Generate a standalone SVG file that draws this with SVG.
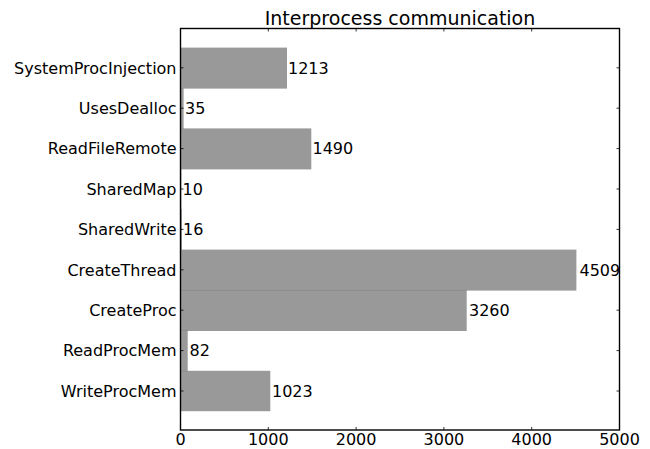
<svg xmlns="http://www.w3.org/2000/svg" width="650" height="449" viewBox="0 0 650 449">
<style>
text{font-family:"DejaVu Sans","Liberation Sans",sans-serif;font-size:16px;fill:#000}
.bar{fill:#808080;fill-opacity:0.8}
.ylab{text-anchor:end}
.xlab{text-anchor:middle}
.tick{stroke:#000;stroke-width:0.8;fill:none}
.spine{stroke:#000;stroke-width:1.4;fill:none}
</style>
<rect x="0" y="0" width="650" height="449" fill="#fff"/>
<text x="400" y="25" class="xlab" style="font-size:19px">Interprocess communication</text>
<g id="bars">
<g id="SystemProcInjection"><rect class="bar" x="180.5" y="47.6" width="106.5" height="41"/><text class="ylab" x="176.5" y="73.6">SystemProcInjection</text><text x="288" y="73.6">1213</text></g>
<g id="UsesDealloc"><rect class="bar" x="180.5" y="88" width="3.1" height="41"/><text class="ylab" x="176.5" y="114">UsesDealloc</text><text x="185" y="114">35</text></g>
<g id="ReadFileRemote"><rect class="bar" x="180.5" y="128.4" width="130.8" height="41"/><text class="ylab" x="176.5" y="154.4">ReadFileRemote</text><text x="312.5" y="154.4">1490</text></g>
<g id="SharedMap"><rect class="bar" x="180.5" y="168.8" width="0.9" height="41"/><text class="ylab" x="176.5" y="194.8">SharedMap</text><text x="182.5" y="194.8">10</text></g>
<g id="SharedWrite"><rect class="bar" x="180.5" y="209.2" width="1.4" height="41"/><text class="ylab" x="176.5" y="235.2">SharedWrite</text><text x="183" y="235.2">16</text></g>
<g id="CreateThread"><rect class="bar" x="180.5" y="249.6" width="395.9" height="41"/><text class="ylab" x="176.5" y="275.6">CreateThread</text><text x="579.5" y="275.6">4509</text></g>
<g id="CreateProc"><rect class="bar" x="180.5" y="290" width="286.2" height="41"/><text class="ylab" x="176.5" y="316">CreateProc</text><text x="469" y="316">3260</text></g>
<g id="ReadProcMem"><rect class="bar" x="180.5" y="330.4" width="7.2" height="41"/><text class="ylab" x="176.5" y="356.4">ReadProcMem</text><text x="189.5" y="356.4">82</text></g>
<g id="WriteProcMem"><rect class="bar" x="180.5" y="370.8" width="89.8" height="40.4"/><text class="ylab" x="176.5" y="396.8">WriteProcMem</text><text x="272" y="396.8">1023</text></g>
</g>
<g id="axes">
<path class="tick" d="M268.3 28.5v3M356.1 28.5v3M443.9 28.5v3M531.7 28.5v3M268.3 430v-3M356.1 430v-3M443.9 430v-3M531.7 430v-3"/>
<path class="tick" d="M619.5 67.8h-3M619.5 108.2h-3M619.5 148.6h-3M619.5 189h-3M619.5 229.4h-3M619.5 269.8h-3M619.5 310.2h-3M619.5 350.6h-3M619.5 391h-3"/>
<path class="tick" d="M180.5 67.8h3M180.5 108.2h3M180.5 148.6h3M180.5 189h3M180.5 229.4h3M180.5 269.8h3M180.5 310.2h3M180.5 350.6h3M180.5 391h3"/>
<rect class="spine" x="180.5" y="28.5" width="439" height="401.5"/>
<text class="xlab" x="180.5" y="445">0</text>
<text class="xlab" x="268.3" y="445">1000</text>
<text class="xlab" x="356.1" y="445">2000</text>
<text class="xlab" x="443.9" y="445">3000</text>
<text class="xlab" x="531.7" y="445">4000</text>
<text class="xlab" x="619.5" y="445">5000</text>
</g>
</svg>
